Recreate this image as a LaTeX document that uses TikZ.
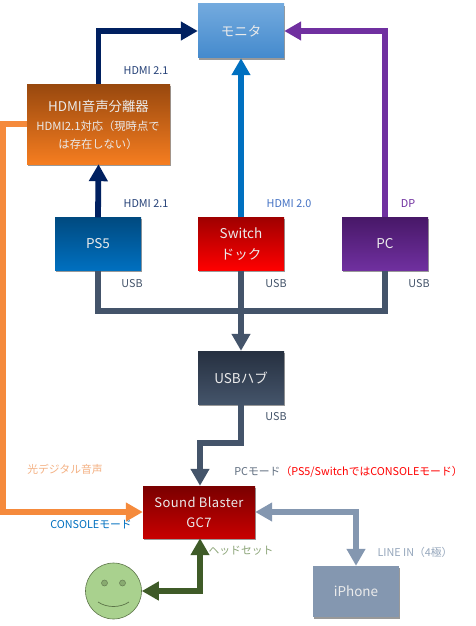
\documentclass[tikz,border=0pt]{standalone}
\usepackage{fontspec}
\setmainfont{Noto Sans CJK JP}
\usetikzlibrary{arrows.meta,shadows}
\definecolor{hdmi}{HTML}{002060}
\definecolor{swblue}{HTML}{0070C0}
\definecolor{pcpurple}{HTML}{7030A0}
\definecolor{usbc}{HTML}{44546A}
\definecolor{orangeline}{HTML}{F58A3C}
\definecolor{greenline}{HTML}{3F5B28}
\definecolor{iph}{HTML}{8497B0}
\tikzset{
  box/.style={minimum width=86pt,minimum height=53pt,inner sep=0pt,align=center,text=white!92!black,
    font=\fontsize{13.5}{21}\selectfont,
    drop shadow={shadow xshift=1.2pt,shadow yshift=-1.8pt,opacity=.4,fill=black}},
  conn/.style={line width=5.8pt,line join=miter,-{Triangle[length=17pt,width=18pt]}},
  biconn/.style={line width=5.8pt,line join=miter,{Triangle[length=17pt,width=18pt]}-{Triangle[length=17pt,width=18pt]}},
  lab/.style={inner sep=0pt,font=\fontsize{10.8}{12}\selectfont},
}
\begin{document}
\begin{tikzpicture}[x=1pt,y=-1pt]
\fill[white] (0,0) rectangle (475,626);
\useasboundingbox (0,0) rectangle (475,626);
% boxes
\node[box,top color={rgb,255:red,115;green,170;blue,222},bottom color={rgb,255:red,68;green,138;blue,205},minimum height=54pt] (mon) at (241,31) {モニタ};
\node[box,minimum width=143pt,minimum height=80pt,
  top color={rgb,255:red,152;green,72;blue,14},bottom color={rgb,255:red,245;green,125;blue,32}] (sep) at (98.5,124) {};
\node[inner sep=0pt,text=white!92!black,font=\fontsize{13.4}{15}\selectfont] (septa) at (98.5,106) {HDMI音声分離器};
\node[inner sep=0pt,text=white!92!black,align=center,font=\fontsize{11.3}{18}\selectfont] (septb) at (98,135) {HDMI2.1対応（現時点で\\は存在しない）};
\node[box,top color={rgb,255:red,0;green,74;blue,128},bottom color=swblue] (ps5) at (98,244) {PS5};
\node[box,top color={rgb,255:red,160;green,0;blue,0},bottom color=red] (sw) at (241,244) {Switch\\ドック};
\node[box,top color={rgb,255:red,72;green,24;blue,104},bottom color=pcpurple] (pc) at (385,244) {PC};
\node[box,top color={rgb,255:red,38;green,48;blue,64},bottom color=usbc] (hub) at (241,377.5) {USBハブ};
\node[box,top color={rgb,255:red,122;green,0;blue,0},bottom color={rgb,255:red,200;green,0;blue,0},minimum width=112pt,minimum height=52pt,
  font=\fontsize{13}{20}\selectfont\addfontfeatures{LetterSpace=3}] (gc) at (199,512) {Sound Blaster\\GC7};
\node[box,fill=iph,minimum height=51pt] (iphone) at (356,591.5) {iPhone};
\node[circle,draw=greenline!85!white,fill={rgb,255:red,169;green,209;blue,142},minimum size=56pt,inner sep=0pt,line width=.6pt] (face) at (113.5,591) {};
\node[circle,draw=greenline!80!white,fill={rgb,255:red,136;green,170;blue,112},minimum size=6pt,inner sep=0pt,line width=.5pt] (eyea) at (104.5,583) {};
\node[circle,draw=greenline!80!white,fill={rgb,255:red,136;green,170;blue,112},minimum size=6pt,inner sep=0pt,line width=.5pt] (eyeb) at (122.5,583) {};
\draw[greenline!85!white,line width=.7pt] (98,602) .. controls (107,608) and (120,608) .. (129,602);
% bends
\coordinate (hb) at (200,443);
\coordinate (oc) at (3,124);
\coordinate (usbm) at (241,311);
% connectors
\draw[conn,hdmi] (sep.north) |- (mon.west);
\draw[conn,hdmi] (ps5.north) -- (sep.south);
\draw[conn,swblue] (sw.north) -- (mon.south);
\draw[conn,pcpurple] (pc.north) |- (mon.east);
\draw[line width=5.8pt,usbc,line join=miter] (ps5.south) |- (usbm) -| (pc.south);
\draw[conn,usbc] (sw.south) -- (hub.north);
\draw[conn,usbc] (hub.south) |- (hb) -- (gc.north -| hb);
\draw[conn,orangeline] (sep.west) -- (oc) |- (gc.west);
\draw[biconn,greenline] (gc.south -| hb) |- (face.east);
\draw[biconn,iph] (gc.east) -| (iphone.north);
% labels
\node[lab,text=hdmi!85!white] (l1) at (146,71) {HDMI 2.1};
\node[lab,text=hdmi!85!white] (l2) at (146,204) {HDMI 2.1};
\node[lab,text={rgb,255:red,68;green,114;blue,196}] (l3) at (289,204) {HDMI 2.0};
\node[lab,text=pcpurple] (l4) at (408,204) {DP};
\node[lab,text=usbc] (u1) at (132,284) {USB};
\node[lab,text=usbc] (u2) at (276,284) {USB};
\node[lab,text=usbc] (u3) at (419,284) {USB};
\node[lab,text=usbc] (u4) at (276,417) {USB};
\node[lab,text={rgb,255:red,244;green,177;blue,131}] (l5) at (65,469) {光デジタル音声};
\node[lab,text=swblue] (l6) at (91,525) {CONSOLEモード};
\node[lab,text=usbc!85!white] (l7) at (348.5,472) {PCモード\textcolor{red}{（PS5/SwitchではCONSOLEモード）}};
\node[lab,text={rgb,255:red,140;green,165;blue,120}] (l8) at (241,551) {ヘッドセット};
\node[lab,text=iph!85!white] (l9) at (415,552) {LINE IN（4極）};
\end{tikzpicture}
\end{document}
